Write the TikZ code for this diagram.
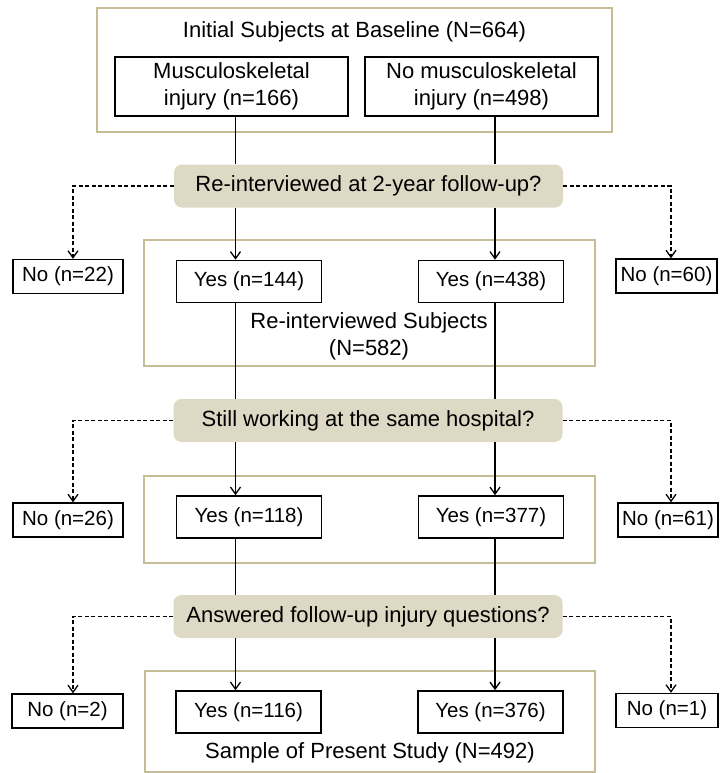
\documentclass[tikz,border=0pt]{standalone}
\usepackage{fontspec}
\setmainfont{Liberation Sans}
\usetikzlibrary{arrows.meta, positioning}
\definecolor{grpline}{HTML}{C4BD97}
\definecolor{qfill}{HTML}{DDD9C4}
\newcommand{\flowbig}{\fontsize{22}{27}\selectfont}
\newcommand{\flowsmall}{\fontsize{20.5}{24}\selectfont}

\begin{document}
\begin{tikzpicture}[
  x=1pt, y=-1pt,
  >={Straight Barb[length=7pt,width=10pt]},
  grp/.style={draw=grpline, line width=2pt, minimum width=451pt, inner sep=0pt},
  ques/.style={fill=qfill, rounded corners=8pt, minimum width=389pt, minimum height=43pt, inner sep=0pt, font=\flowbig},
  catbox/.style={draw, line width=1.6pt, minimum width=233pt, minimum height=59pt, inner sep=0pt, align=center, font=\flowbig},
  yesbox/.style={draw, line width=1.6pt, minimum width=145pt, minimum height=42pt, inner sep=0pt, font=\flowsmall},
  nobox/.style={draw, line width=1.4pt, minimum height=34pt, inner sep=0pt, font=\flowsmall},
  link/.style={line width=1.3pt},
  skip/.style={line width=1.3pt, dash pattern=on 4pt off 2.5pt}
  ]
  \useasboundingbox (0,0) rectangle (720,773);
  \coordinate (colL) at (235.5,0);
  \coordinate (colR) at (495,0);
  \coordinate (dropL) at (73,0);
  \coordinate (dropR) at (671,0);
  % baseline
  \node[grp, minimum width=515pt, minimum height=124pt] (grpA) at (354.5,70) {};
  \node[font=\flowbig] (titleA) at (354.5,32) {Initial Subjects at Baseline (N=664)};
  \node[catbox] (musc) at (231.5,86.5) {Musculoskeletal\\injury (n=166)};
  \node[catbox] (nomusc) at (481.5,86.5) {No musculoskeletal\\injury (n=498)};
  % 2-year follow-up
  \node[ques] (q1) at (368.5,186) {Re-interviewed at 2-year follow-up?};
  \node[nobox, minimum width=110pt] (no22) at (68,276.5) {No (n=22)};
  \node[nobox, minimum width=101pt] (no60) at (666.5,276) {No (n=60)};
  \node[grp, minimum height=126pt] (grpB) at (369.5,303) {};
  \node[yesbox] (yes144) at (249,281.5) {Yes (n=144)};
  \node[yesbox] (yes438) at (491,281.5) {Yes (n=438)};
  \node[font=\flowbig, align=center] (subjB) at (369,336) {Re-interviewed Subjects\\(N=582)};
  % same hospital
  \node[ques] (q2) at (368,420.5) {Still working at the same hospital?};
  \node[nobox, minimum width=110pt] (no26) at (68,520) {No (n=26)};
  \node[nobox, minimum width=100pt] (no61) at (668,520) {No (n=61)};
  \node[grp, minimum height=87pt] (grpC) at (369.5,519.5) {};
  \node[yesbox] (yes118) at (249,517) {Yes (n=118)};
  \node[yesbox] (yes377) at (491,517) {Yes (n=377)};
  % injury questions
  \node[ques] (q3) at (368,616.5) {Answered follow-up injury questions?};
  \node[nobox, minimum width=111pt] (no2) at (67.5,711) {No (n=2)};
  \node[nobox, minimum width=102pt] (no1) at (667,710.5) {No (n=1)};
  \node[grp, minimum width=450pt, minimum height=101pt] (grpD) at (370,721.5) {};
  \node[yesbox] (yes116) at (248.5,712) {Yes (n=116)};
  \node[yesbox] (yes376) at (490.5,712) {Yes (n=376)};
  \node[font=\flowbig] (sampleD) at (370,753) {Sample of Present Study (N=492)};
  % left column
  \draw[link] (musc.south -| colL) -- (q1.north -| colL);
  \draw[link, ->] (q1.south -| colL) -- (yes144.north -| colL);
  \draw[link] (yes144.south -| colL) -- (q2.north -| colL);
  \draw[link, ->] (q2.south -| colL) -- (yes118.north -| colL);
  \draw[link] (yes118.south -| colL) -- (q3.north -| colL);
  \draw[link, ->] (q3.south -| colL) -- (yes116.north -| colL);
  % right column
  \draw[link] (nomusc.south -| colR) -- (q1.north -| colR);
  \draw[link, ->] (q1.south -| colR) -- (yes438.north -| colR);
  \draw[link] (yes438.south -| colR) -- (q2.north -| colR);
  \draw[link, ->] (q2.south -| colR) -- (yes377.north -| colR);
  \draw[link] (yes377.south -| colR) -- (q3.north -| colR);
  \draw[link, ->] (q3.south -| colR) -- (yes376.north -| colR);
  % dropouts
  \draw[skip, ->] (q1.west) -| (no22.north -| dropL);
  \draw[skip, ->] (q1.east) -| (no60.north -| dropR);
  \draw[skip, ->] (q2.west) -| (no26.north -| dropL);
  \draw[skip, ->] (q2.east) -| (no61.north -| dropR);
  \draw[skip, ->] (q3.west) -| (no2.north -| dropL);
  \draw[skip, ->] (q3.east) -| (no1.north -| dropR);
\end{tikzpicture}
\end{document}
